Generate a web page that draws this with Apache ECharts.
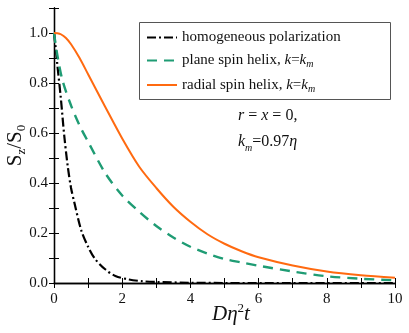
<!DOCTYPE html>
<html>
<head>
<meta charset="utf-8">
<script src="https://cdn.jsdelivr.net/npm/echarts@6/dist/echarts.min.js"></script>
<style>
  html, body { margin: 0; padding: 0; background: #fff; }
  #chart { width: 409px; height: 333px; }
</style>
</head>
<body>
<div id="chart"></div>
<script>
  // values
  var homoX = [0, 0.05, 0.1, 0.2, 0.3, 0.4, 0.5, 0.6, 0.8, 1.0, 1.2, 1.5, 1.8, 2.2, 2.6, 3.0, 4.0, 5.0, 7.0, 10.0];
  var homoY = [1.0, 0.94, 0.87, 0.74, 0.59, 0.47, 0.38, 0.32, 0.21, 0.145, 0.097, 0.055, 0.028, 0.014, 0.007, 0.004, 0.001, 0, 0, 0];
  var planeX = [0, 0.1, 0.25, 0.5, 0.75, 1.0, 1.5, 2.0, 2.5, 3.0, 3.5, 4.0, 4.5, 5.0, 5.5, 6.0, 7.0, 8.0, 9.0, 10.0];
  var planeY = [1.0, 0.91, 0.81, 0.71, 0.63, 0.565, 0.44, 0.35, 0.285, 0.228, 0.182, 0.145, 0.118, 0.096, 0.082, 0.069, 0.046, 0.027, 0.017, 0.011];
  var radialX = [0, 0.1, 0.2, 0.35, 0.5, 0.75, 1.0, 1.5, 2.0, 2.5, 3.0, 3.5, 4.0, 4.5, 5.0, 5.5, 6.0, 7.0, 8.0, 9.0, 10.0];
  var radialY = [1.0, 0.999, 0.995, 0.98, 0.955, 0.9, 0.835, 0.705, 0.578, 0.465, 0.38, 0.305, 0.245, 0.195, 0.157, 0.127, 0.103, 0.07, 0.046, 0.031, 0.021];
  var xTicks = [0, 2, 4, 6, 8, 10];
  var yTicks = [0.0, 0.2, 0.4, 0.6, 0.8, 1.0];

  function pairs(xs, ys) {
    return xs.map(function (x, i) { return [x, ys[i]]; });
  }

  var serif = '"Liberation Serif", "Times New Roman", serif';
  var green = '#1f9c74';
  var orange = '#ff6a10';

  var chart = echarts.init(document.getElementById('chart'));

  var tickStyle = { show: true, inside: true, length: 5, lineStyle: { color: '#000', width: 1 } };
  var lineStyle = { show: true, lineStyle: { color: '#000', width: 1.3 } };

  var option = {
    backgroundColor: '#fff',
    animation: false,
    textStyle: { fontFamily: serif },
    grid: { left: 54, right: 14, top: 8, bottom: 50, containLabel: false, outerBoundsMode: 'none' },
    xAxis: [
      {
        type: 'value', min: 0, max: 10, interval: 1,
        axisLine: lineStyle, axisTick: tickStyle, splitLine: { show: false },
        axisLabel: {
          color: '#111', fontSize: 15, fontFamily: serif, margin: 9,
          formatter: function (v) { return xTicks.indexOf(v) >= 0 ? String(v) : ''; }
        }
      },
      {
        type: 'value', position: 'top', min: 0, max: 10, interval: 1,
        axisLine: lineStyle, axisTick: tickStyle, axisLabel: { show: false }, splitLine: { show: false }
      }
    ],
    yAxis: [
      {
        type: 'value', min: 0, max: 1.1, interval: 0.1,
        axisLine: lineStyle, axisTick: tickStyle, splitLine: { show: false },
        axisLabel: {
          color: '#111', fontSize: 15, fontFamily: serif, margin: 6,
          formatter: function (v) {
            for (var i = 0; i < yTicks.length; i++) {
              if (Math.abs(v - yTicks[i]) < 1e-6) return yTicks[i].toFixed(1);
            }
            return '';
          }
        },
        name: '{a|S}{s|z}{a|/S}{s|0}',
        nameLocation: 'middle', nameGap: 26, nameRotate: 90, nameMoveOverlap: false,
        nameTextStyle: {
          rich: {
            a: { fontSize: 21, fontFamily: serif, color: '#111' },
            s: { fontSize: 13, fontFamily: serif, color: '#111', padding: [12, 0, 0, 0] }
          }
        }
      },
      {
        type: 'value', position: 'right', min: 0, max: 1.1, interval: 0.1,
        axisLine: lineStyle, axisTick: tickStyle, axisLabel: { show: false }, splitLine: { show: false }
      }
    ],
    legend: {
      left: 146, top: 30, orient: 'vertical', padding: 0,
      itemWidth: 30, itemHeight: 14, itemGap: 8,
      itemStyle: { opacity: 0 },
      data: ['homogeneous polarization', 'plane spin helix, k=k_m', 'radial spin helix, k=k_m'],
      formatter: function (name) {
        if (name.indexOf('k=k_m') >= 0) {
          return name.replace('k=k_m', '{i|k}={i|k}{sub|m}');
        }
        return name;
      },
      textStyle: {
        fontSize: 15, fontFamily: serif, color: '#111',
        rich: {
          i: { fontSize: 15, fontFamily: serif, fontStyle: 'italic', color: '#111' },
          sub: { fontSize: 10, fontFamily: serif, fontStyle: 'italic', color: '#111', padding: [8, 0, 0, 0] }
        }
      }
    },
    graphic: [
      {
        type: 'rect', left: 137, top: 20, z: 10,
        shape: { width: 251, height: 77 },
        style: { fill: 'none', stroke: '#555', lineWidth: 1 }
      },
      {
        type: 'text', left: 238, top: 108, z: 10,
        style: {
          text: '{i|r} = {i|x} = 0,',
          rich: { i: { fontStyle: 'italic', fontSize: 16, fontFamily: serif } },
          fontSize: 16, fontFamily: serif, fill: '#111'
        }
      },
      {
        type: 'text', left: 238, top: 134, z: 10,
        style: {
          text: '{i|k}{sub|m}=0.97{i|η}',
          rich: {
            i: { fontStyle: 'italic', fontSize: 16, fontFamily: serif },
            sub: { fontStyle: 'italic', fontSize: 10, fontFamily: serif, padding: [12, 0, 0, 0] }
          },
          fontSize: 16, fontFamily: serif, fill: '#111'
        }
      },
      {
        type: 'text', left: 212, top: 302, z: 10,
        style: {
          text: '{i|Dη}{sup|2}{i|t}',
          rich: {
            i: { fontStyle: 'italic', fontSize: 21, fontFamily: serif },
            sup: { fontSize: 13, fontFamily: serif, padding: [0, 0, 12, 0] }
          },
          fill: '#111'
        }
      }
    ],
    series: [
      {
        name: 'homogeneous polarization', type: 'line', symbol: 'none', smooth: 0.3,
        data: pairs(homoX, homoY),
        lineStyle: { color: '#000', width: 2.2, type: [9, 3, 2, 3] },
        itemStyle: { color: '#000' }
      },
      {
        name: 'plane spin helix, k=k_m', type: 'line', symbol: 'none', smooth: 0.3,
        data: pairs(planeX, planeY),
        lineStyle: { color: green, width: 2.4, type: [10, 7] },
        itemStyle: { color: green }
      },
      {
        name: 'radial spin helix, k=k_m', type: 'line', symbol: 'none', smooth: 0.3,
        data: pairs(radialX, radialY),
        lineStyle: { color: orange, width: 2 },
        itemStyle: { color: orange }
      }
    ]
  };

  chart.setOption(option);
</script>
</body>
</html>
